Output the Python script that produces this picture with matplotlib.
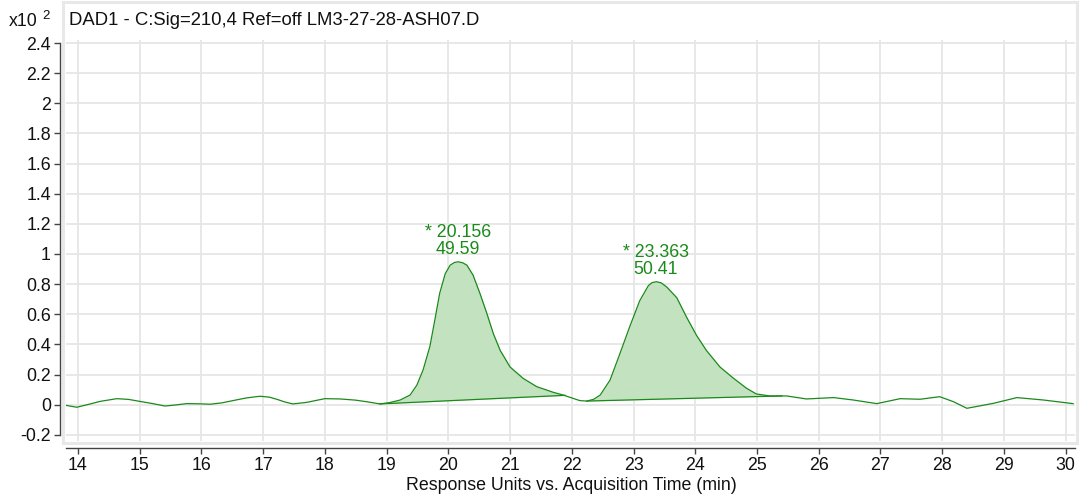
import matplotlib
matplotlib.use("Agg")
import matplotlib.pyplot as plt
from matplotlib.patches import Rectangle

plt.rcParams['font.family'] = ['Liberation Sans', 'DejaVu Sans']

# ---- data (x10^2 response units vs. minutes) ----
time_min = [13.80, 13.98, 14.17, 14.36, 14.63, 14.82, 15.00, 15.20, 15.41, 15.58, 15.76,
            15.95, 16.14, 16.33, 16.51, 16.73, 16.95, 17.10, 17.22, 17.35, 17.48, 17.70,
            18.00, 18.25, 18.50, 18.70, 18.89, 19.05, 19.22, 19.38, 19.49, 19.59, 19.70,
            19.78, 19.86, 19.95, 20.03, 20.10, 20.16, 20.23, 20.30, 20.40, 20.51, 20.62,
            20.73, 20.84, 21.00, 21.21, 21.43, 21.70, 21.86, 22.02, 22.13, 22.24, 22.35,
            22.46, 22.62, 22.78, 22.94, 23.10, 23.24, 23.30, 23.37, 23.45, 23.54, 23.70,
            23.86, 24.02, 24.18, 24.40, 24.62, 24.83, 24.99, 25.21, 25.48, 25.80, 26.24,
            26.56, 26.94, 27.32, 27.64, 27.96, 28.18, 28.40, 28.83, 29.21, 29.64, 30.12]
signal = [-0.004, -0.017, 0.002, 0.022, 0.040, 0.035, 0.022, 0.008, -0.009, -0.002, 0.007,
          0.006, 0.003, 0.012, 0.027, 0.045, 0.056, 0.050, 0.036, 0.018, 0.005, 0.015,
          0.040, 0.038, 0.030, 0.018, 0.005, 0.014, 0.031, 0.064, 0.130, 0.230, 0.385,
          0.560, 0.740, 0.870, 0.926, 0.944, 0.948, 0.942, 0.926, 0.860, 0.740, 0.610,
          0.470, 0.360, 0.250, 0.175, 0.120, 0.082, 0.064, 0.042, 0.027, 0.024, 0.035,
          0.064, 0.164, 0.340, 0.520, 0.690, 0.790, 0.810, 0.816, 0.808, 0.780, 0.710,
          0.580, 0.460, 0.360, 0.250, 0.175, 0.109, 0.071, 0.058, 0.058, 0.038, 0.047,
          0.031, 0.007, 0.040, 0.036, 0.053, 0.020, -0.024, 0.009, 0.047, 0.031, 0.007]

peak_rt = [20.156, 23.363]
peak_area_pct = [49.59, 50.41]
peak_height = [0.948, 0.816]
# integration baselines: (start time, start value, end time, end value)
base_t0 = [18.89, 22.24]
base_v0 = [0.005, 0.024]
base_t1 = [21.89, 25.40]
base_v1 = [0.062, 0.058]

title = "DAD1 - C:Sig=210,4 Ref=off LM3-27-28-ASH07.D"
xlabel = "Response Units vs. Acquisition Time (min)"
x_ticks = list(range(14, 31))
y_ticks = [-0.2, 0, 0.2, 0.4, 0.6, 0.8, 1, 1.2, 1.4, 1.6, 1.8, 2, 2.2, 2.4]
y_ticklabels = ["-0.2", "0", "0.2", "0.4", "0.6", "0.8", "1", "1.2", "1.4", "1.6",
                "1.8", "2", "2.2", "2.4"]

# ---- figure ----
W, H = 1080, 498
fig = plt.figure(figsize=(W / 100, H / 100), dpi=100)

def fx(px):
    return px / W

def fy(py):
    return 1 - py / H

FS = 12.8

# light gray panel frame
fig.add_artist(Rectangle((fx(63), fy(443)), fx(1077) - fx(63), fy(2) - fy(443),
                         transform=fig.transFigure, facecolor='white',
                         edgecolor='#e8e8e8', linewidth=2.2, zorder=0))

ax = fig.add_axes([fx(66), fy(441), fx(1075) - fx(66), fy(40) - fy(441)])
ax.patch.set_alpha(0)

line_c = '#1a891a'
fill_c = '#c3e2c0'
text_c = '#1a8a1a'

ax.plot(time_min, signal, color=line_c, lw=0.9, zorder=3)

for i in range(len(peak_rt)):
    t0, t1 = base_t0[i], base_t1[i]
    v0, v1 = base_v0[i], base_v1[i]
    xs = [t for t in time_min if t0 < t < t1]
    ys = [signal[time_min.index(t)] for t in xs]
    xs = [t0] + xs + [t1]
    ys = [v0] + ys + [v1]
    bl = [v0 + (v1 - v0) * (t - t0) / (t1 - t0) for t in xs]
    ax.fill_between(xs, bl, ys, color=fill_c, lw=0, zorder=2)
    ax.plot([t0, t1], [v0, v1], color=line_c, lw=0.9, zorder=3)
    ax.annotate(f"* {peak_rt[i]:.3f}\n{peak_area_pct[i]:.2f}",
                xy=(peak_rt[i], peak_height[i]), xytext=(0, 3),
                textcoords='offset points', ha='center', va='bottom',
                color=text_c, fontsize=FS, linespacing=1.0, zorder=4)

ax.set_xlim(13.806, 30.151)
ax.set_ylim(-0.241, 2.42)

ax.set_xticks(x_ticks)
ax.set_xticklabels([str(t) for t in x_ticks])
ax.set_yticks(y_ticks)
ax.set_yticklabels(y_ticklabels)
ax.grid(True, color='#e6e6e6', lw=1.3, zorder=0)
ax.set_axisbelow(True)

for s in ['top', 'right']:
    ax.spines[s].set_visible(False)
ax.spines['left'].set_position(('outward', 4.3))
ax.spines['left'].set_bounds(-0.2, 2.4)
ax.spines['bottom'].set_position(('outward', 4.8))
for s in ['left', 'bottom']:
    ax.spines[s].set_color('#444444')
    ax.spines[s].set_linewidth(1.0)

ax.tick_params(axis='both', direction='out', length=4, width=1.0, color='#444444',
               labelsize=FS, labelcolor='#111111', pad=2.5)

fig.text(fx(69), fy(20), title, ha='left', va='center', fontsize=13.3, color='#111111')
fig.text(fx(9), fy(21), "x10", ha='left', va='center', fontsize=FS, color='#111111')
fig.text(fx(42), fy(16), "2", ha='left', va='center', fontsize=9.5, color='#111111')
fig.text(fx(571), fy(485), xlabel, ha='center', va='center', fontsize=FS, color='#111111')

fig.savefig("out.png", dpi=100)
